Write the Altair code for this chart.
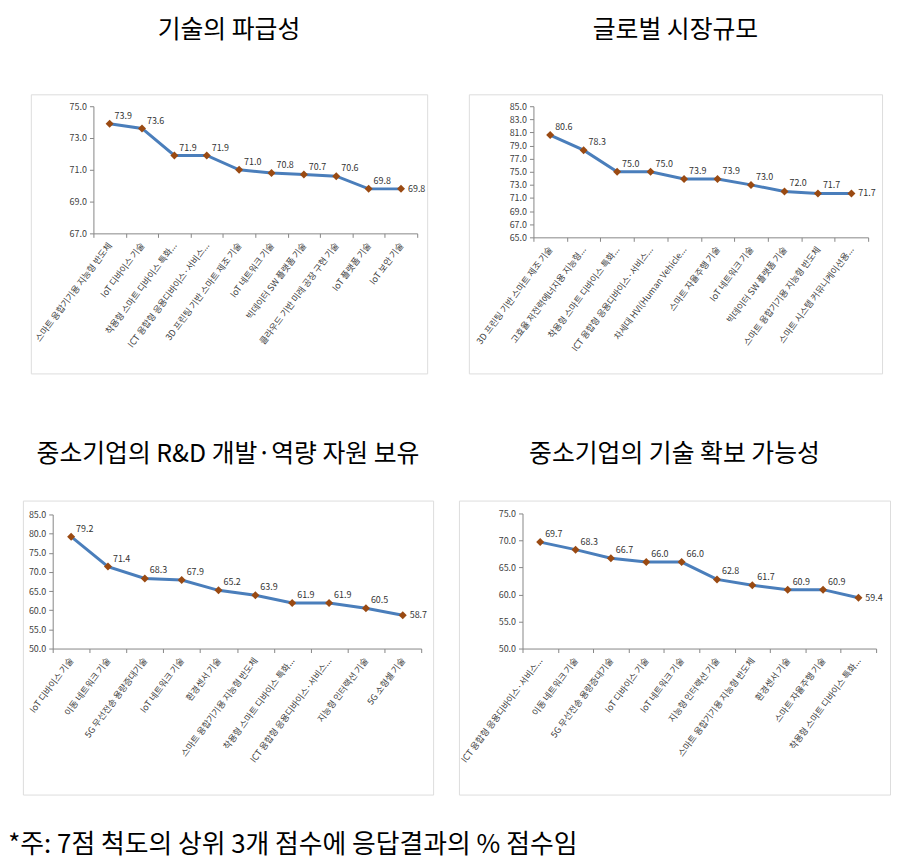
import altair as alt
import pandas as pd

FONT = "Noto Sans CJK KR"

# ---------------- data ----------------
title1 = "기술의 파급성"
cats1 = ["스마트 융합기기용 지능형 반도체", "IoT 디바이스 기술", "착용형 스마트 디바이스 특화...",
         "ICT 융합형 응용디바이스·서비스...", "3D 프린팅 기반 스마트 제조 기술", "IoT 네트워크 기술",
         "빅데이터 SW 플랫폼 기술", "클라우드 기반 미래 공장 구현 기술", "IoT 플랫폼 기술", "IoT 보안 기술"]
vals1 = [73.9, 73.6, 71.9, 71.9, 71.0, 70.8, 70.7, 70.6, 69.8, 69.8]
yticks1 = [67, 69, 71, 73, 75]

title2 = "글로벌 시장규모"
cats2 = ["3D 프린팅 기반 스마트 제조 기술", "고효율 저전력에너지용 지능형...", "착용형 스마트 디바이스 특화...",
         "ICT 융합형 응용디바이스·서비스...", "차세대 HVI(Human Vehicle...", "스마트 자율주행 기술",
         "IoT 네트워크 기술", "빅데이터 SW 플랫폼 기술", "스마트 융합기기용 지능형 반도체",
         "스마트 시스템 커뮤니케이션용..."]
vals2 = [80.6, 78.3, 75.0, 75.0, 73.9, 73.9, 73.0, 72.0, 71.7, 71.7]
yticks2 = [65, 67, 69, 71, 73, 75, 77, 79, 81, 83, 85]

title3 = "중소기업의 R&D 개발·역량 자원 보유"
cats3 = ["IoT 디바이스 기술", "이동 네트워크 기술", "5G 무선전송 용량증대기술", "IoT 네트워크 기술",
         "환경센서 기술", "스마트 융합기기용 지능형 반도체", "착용형 스마트 디바이스 특화...",
         "ICT 융합형 응용디바이스·서비스...", "지능형 인터랙션 기술", "5G 소형셀 기술"]
vals3 = [79.2, 71.4, 68.3, 67.9, 65.2, 63.9, 61.9, 61.9, 60.5, 58.7]
yticks3 = [50, 55, 60, 65, 70, 75, 80, 85]

title4 = "중소기업의 기술 확보 가능성"
cats4 = ["ICT 융합형 응용디바이스·서비스...", "이동 네트워크 기술", "5G 무선전송 용량증대기술",
         "IoT 디바이스 기술", "IoT 네트워크 기술", "지능형 인터랙션 기술", "스마트 융합기기용 지능형 반도체",
         "환경센서 기술", "스마트 자율주행 기술", "착용형 스마트 디바이스 특화..."]
vals4 = [69.7, 68.3, 66.7, 66.0, 66.0, 62.8, 61.7, 60.9, 60.9, 59.4]
yticks4 = [50, 55, 60, 65, 70, 75]

footnote = "*주: 7점 척도의 상위 3개 점수에 응답결과의 % 점수임"

LINE_COLOR = "#4A7EBB"
POINT_COLOR = "#9A4A12"
AXIS_COLOR = "#868686"
LABEL_COLOR = "#404040"


def panel(title, cats, vals, yticks, w, h, xr, yr, title_offset):
    df = pd.DataFrame({"cat": cats, "val": vals, "idx": list(range(len(cats)))})
    n = len(cats)
    x = alt.X(
        "cat:N", sort=cats, bandPosition=0.5,
        scale=alt.Scale(type="band", domain=cats, range=list(xr), paddingInner=0, paddingOuter=0),
        axis=alt.Axis(title=None, labelAngle=-53, labelAlign="right", labelBaseline="middle",
                      labelFontSize=9, labelFont=FONT, labelColor=LABEL_COLOR, labelPadding=6,
                      labelOverlap=False, labelLimit=0, tickBand="extent", tickSize=4,
                      tickColor=AXIS_COLOR, domainColor=AXIS_COLOR, offset=yr[0] - h, grid=False),
    )
    y = alt.Y(
        "val:Q",
        scale=alt.Scale(domain=[yticks[0], yticks[-1]], range=list(yr), nice=False, zero=False),
        axis=alt.Axis(title=None, values=yticks, format=".1f", labelFontSize=9, labelFont=FONT,
                      labelColor=LABEL_COLOR, labelPadding=3, tickSize=4, tickColor=AXIS_COLOR,
                      domainColor=AXIS_COLOR, offset=-xr[0], grid=False),
    )
    base = alt.Chart(df).encode(x=x, y=y)
    line = base.mark_line(color=LINE_COLOR, strokeWidth=3)
    pts = base.mark_point(shape="diamond", size=65, filled=True, color=POINT_COLOR, opacity=1)
    txt = base.transform_filter(alt.datum.idx < n - 1).mark_text(
        align="left", dx=5, dy=-8, fontSize=9, font=FONT, color="#333333"
    ).encode(text=alt.Text("val:Q", format=".1f"))
    txt_last = base.transform_filter(alt.datum.idx == n - 1).mark_text(
        align="left", dx=7, dy=0, fontSize=9, font=FONT, color="#333333"
    ).encode(text=alt.Text("val:Q", format=".1f"))
    return alt.layer(line, pts, txt, txt_last).properties(
        width=w, height=h,
        title=alt.TitleParams(text=title, fontSize=25, font=FONT, fontWeight="normal",
                              color="#000000", anchor="middle", offset=title_offset),
    )


p1 = panel(title1, cats1, vals1, yticks1, 399, 281, (63, 389), (140, 12), 52)
p2 = panel(title2, cats2, vals2, yticks2, 416, 281, (65, 402), (144, 12), 52)
p3 = panel(title3, cats3, vals3, yticks3, 413, 296, (30, 401), (149, 14), 34)
p4 = panel(title4, cats4, vals4, yticks4, 434, 296, (64, 420), (149, 13), 34)

# empty, invisible cell that indents the first row a few pixels
indent = alt.Chart(pd.DataFrame({"v": [0]})).mark_point(opacity=0, size=0).encode(
    x=alt.X("v:Q", axis=None), y=alt.Y("v:Q", axis=None)
).properties(width=4, height=10, view=alt.ViewBackground(strokeOpacity=0))

row1 = alt.hconcat(alt.hconcat(indent, p1, spacing=0), p2, spacing=37)
row2 = alt.hconcat(p3, p4, spacing=21)

chart = alt.vconcat(row1, row2, spacing=67).properties(
    title=alt.TitleParams(text=footnote, orient="bottom", anchor="start", fontSize=26, font=FONT,
                          fontWeight="normal", color="#000000", offset=37, dx=-11),
    padding={"top": 6, "left": 0, "right": 0, "bottom": 0},
).configure_view(stroke="#a6a6a6", strokeWidth=1.5).configure(background="white")

chart.save("out.html", embed_options={"renderer": "svg", "actions": False})
